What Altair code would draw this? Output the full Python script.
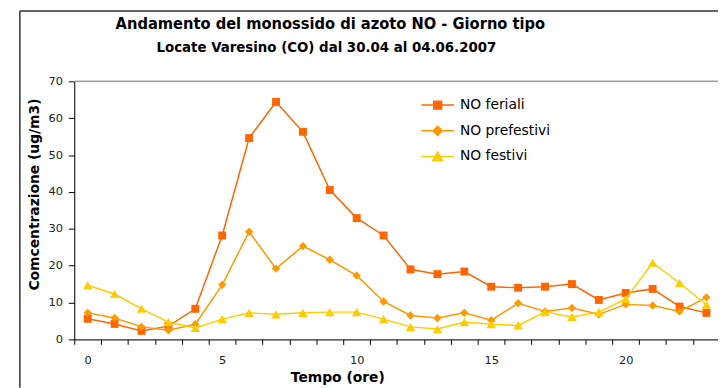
import altair as alt
import pandas as pd

# ---------------- data ----------------
hours = list(range(24))
feriali = [5.6, 4.2, 2.3, 3.6, 8.3, 28.2, 54.6, 64.4, 56.3, 40.5, 32.9, 28.2,
           19.0, 17.7, 18.4, 14.3, 14.0, 14.3, 15.0, 10.7, 12.6, 13.7, 8.9, 7.2]
prefestivi = [7.2, 5.8, 3.4, 2.5, 4.1, 14.8, 29.2, 19.2, 25.3, 21.6, 17.3, 10.3,
              6.5, 5.8, 7.2, 5.2, 9.8, 7.6, 8.5, 6.8, 9.5, 9.2, 7.6, 11.4]
festivi = [14.7, 12.3, 8.3, 4.7, 3.1, 5.5, 7.2, 6.8, 7.2, 7.4, 7.4, 5.5,
           3.4, 2.8, 4.7, 4.1, 3.8, 7.4, 6.1, 7.4, 11.0, 20.8, 15.3, 9.4]

series_names = ["NO feriali", "NO prefestivi", "NO festivi"]
series_colors = ["#FF6600", "#FF9900", "#FFCC00"]
marker_shapes = ["square", "diamond", "triangle-up"]
marker_sizes = [64, 72, 90]
legend_paths = [
    "M-1,0H1M-0.24,-0.24H0.24V0.24H-0.24Z",
    "M-1,0H1M0,-0.28L0.28,0L0,0.28L-0.28,0Z",
    "M-1,0H1M0,-0.27L0.3,0.24L-0.3,0.24Z",
]
y_ticks = [0, 10, 20, 30, 40, 50, 60, 70]
x_labels = [0, 5, 10, 15, 20]

title_text = "Andamento del monossido di azoto NO - Giorno tipo"
subtitle_text = "Locate Varesino (CO) dal 30.04 al 04.06.2007"
x_title = "Tempo (ore)"
y_title = "Comcentrazione (ug/m3)"

rows = []
for name, vals in zip(series_names, [feriali, prefestivi, festivi]):
    for h, v in zip(hours, vals):
        rows.append({"ora": h, "valore": v, "serie": name})
df = pd.DataFrame(rows)

# ---------------- layout ----------------
W, H = 651, 261
x_domain = [-0.5, 23.43]
half_step = W / (x_domain[1] - x_domain[0]) / 2.0

FONT = "DejaVu Sans"
TFONT = "DejaVu Sans Condensed, Liberation Sans Narrow, DejaVu Sans"

x_enc = alt.X(
    "ora:Q",
    scale=alt.Scale(domain=x_domain, nice=False, zero=False),
    axis=alt.Axis(
        values=hours,
        labelExpr="indexof(" + str(x_labels) + ", datum.value) >= 0 ? datum.label : ''",
        tickOffset=-half_step,
        labelOffset=half_step,
        labelFlush=False,
        labelOverlap=False,
        tickSize=5,
        labelPadding=10,
        grid=False,
        domainColor="#000000",
        tickColor="#000000",
        labelColor="#222222",
        labelFont=FONT,
        labelFontSize=11.5,
        title=x_title,
        titleFont=FONT,
        titleFontSize=14,
        titleFontWeight="bold",
        titleColor="#000000",
        titleX=266,
        titleY=39,
        titleBaseline="middle",
        titleAlign="center",
    ),
)
y_enc = alt.Y(
    "valore:Q",
    scale=alt.Scale(domain=[0, 70], nice=False),
    axis=alt.Axis(
        values=y_ticks,
        tickSize=6,
        labelPadding=6,
        grid=False,
        domainColor="#000000",
        tickColor="#000000",
        labelColor="#222222",
        labelFont=FONT,
        labelFontSize=11.5,
        title=y_title,
        titleFont=FONT,
        titleFontSize=14,
        titleFontWeight="bold",
        titleColor="#000000",
        titleX=-40,
        titleY=114,
        titleAngle=-90,
        titleBaseline="middle",
        titleAlign="center",
    ),
)

color_scale = alt.Scale(domain=series_names, range=series_colors)

series_layers = []
for name, col, shp, sz in zip(series_names, series_colors, marker_shapes, marker_sizes):
    base = alt.Chart(df).transform_filter(alt.datum.serie == name)
    series_layers.append(base.mark_line(strokeWidth=1.5, color=col).encode(x=x_enc, y=y_enc))
    series_layers.append(
        base.mark_point(filled=True, opacity=1, shape=shp, size=sz, color=col)
        .encode(x=x_enc, y=y_enc)
    )

leg = alt.Legend(
    orient="none", legendX=350, legendY=11.25, title=None,
    clipHeight=25.5, rowPadding=0, padding=0,
    symbolSize=1089, symbolStrokeWidth=1.5, symbolOpacity=1,
    labelFont=FONT, labelFontSize=14, labelColor="#000000", labelOffset=5,
    labelLimit=300,
)
legend_layer = alt.Chart(df).mark_point(filled=True, opacity=0, size=1089).encode(
    x=x_enc, y=y_enc,
    fill=alt.Fill("serie:N", scale=color_scale, legend=leg),
    stroke=alt.Stroke("serie:N", scale=color_scale, legend=leg),
    shape=alt.Shape("serie:N", scale=alt.Scale(domain=series_names, range=legend_paths), legend=leg),
)

one = alt.Data(values=[{"k": 1}])
top_border = alt.Chart(one).mark_rule(color="#A0A0A0", strokeWidth=1.5).encode(
    x=alt.value(0), x2=alt.value(W), y=alt.value(0)
)
frame_left = alt.Chart(one).mark_rule(color="#333333", strokeWidth=1.5).encode(
    x=alt.value(-55), y=alt.value(-71), y2=alt.value(310)
)
frame_top = alt.Chart(one).mark_rule(color="#333333", strokeWidth=1.5).encode(
    x=alt.value(-55), x2=alt.value(W), y=alt.value(-71)
)
title_mark = alt.Chart(one).mark_text(
    font=TFONT, fontSize=16.5, fontWeight="bold", color="#000000",
    align="center", baseline="alphabetic",
).encode(x=alt.value(259), y=alt.value(-53), text=alt.value(title_text))
subtitle_mark = alt.Chart(one).mark_text(
    font=TFONT, fontSize=15, fontWeight="bold", color="#000000",
    align="center", baseline="alphabetic",
).encode(x=alt.value(255), y=alt.value(-30), text=alt.value(subtitle_text))

chart = alt.layer(
    frame_left, frame_top, top_border, title_mark, subtitle_mark,
    *series_layers, legend_layer
).properties(
    width=W, height=H,
    autosize=alt.AutoSizeParams(type="none"),
    padding={"left": 67, "top": 72, "right": 0, "bottom": 47},
).configure_view(stroke=None).configure(background="white")

chart.save("out.html", embed_options={"renderer": "svg", "actions": False})
